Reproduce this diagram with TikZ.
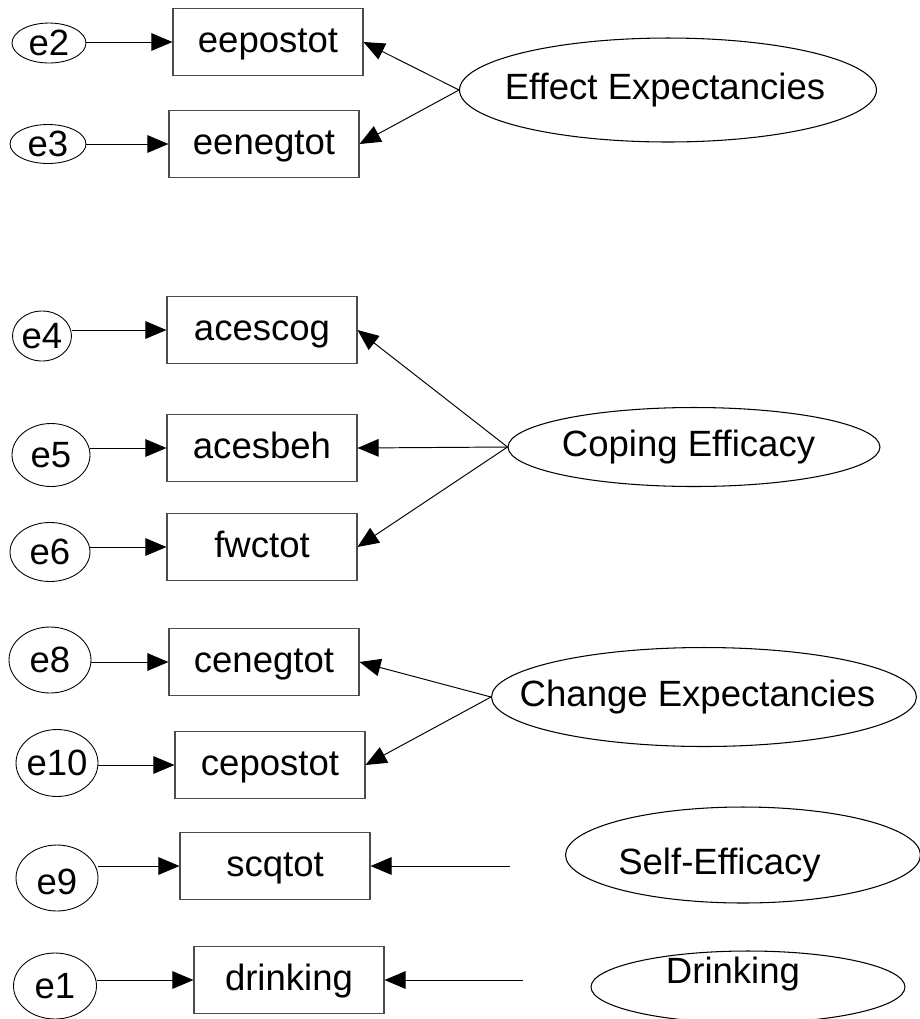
\documentclass[tikz,border=0pt]{standalone}
\usepackage{fontspec}
\setmainfont{Liberation Sans}
\usetikzlibrary{shapes.geometric,arrows.meta}

\begin{document}
\begin{tikzpicture}[x=0.02cm, y=-0.02cm,
    every node/.style={font=\fontsize{20.8}{25}\selectfont},
    obs/.style={draw=black!70, line width=0.6pt, minimum width=3.8cm, minimum height=1.34cm, inner sep=0pt, text height=16.4pt, text depth=4.6pt},
    err/.style 2 args={draw, ellipse, line width=0.5pt, minimum width=#1, minimum height=#2, inner sep=0pt},
    latent/.style 2 args={draw, ellipse, line width=0.6pt, minimum width=#1, minimum height=#2, inner sep=0pt},
    arr/.style={-{Triangle[length=12pt,width=10pt]}, line width=0.55pt}]
    \useasboundingbox (0,0) rectangle (920,1019);

    % observed variables
    \node[obs] (eepostot) at (268,42) {eepostot};
    \node[obs] (eenegtot) at (264,144) {eenegtot};
    \node[obs] (acescog) at (262,330) {acescog};
    \node[obs] (acesbeh) at (262,448) {acesbeh};
    \node[obs] (fwctot) at (262,547) {fwctot};
    \node[obs] (cenegtot) at (264,662) {cenegtot};
    \node[obs] (cepostot) at (270,765) {cepostot};
    \node[obs] (scqtot) at (275,866) {scqtot};
    \node[obs] (drinking) at (289,980) {drinking};

    % error terms
    \node[err={1.48cm}{0.8cm}, label=center:e2] (e2) at (49,43) {};
    \node[err={1.52cm}{0.78cm}, label=center:e3] (e3) at (48,144) {};
    \node[err={1.18cm}{1.0cm}, label=center:e4] (e4) at (42,336) {};
    \node[err={1.56cm}{1.26cm}, label=center:e5] (e5) at (51,455) {};
    \node[err={1.6cm}{1.18cm}, label=center:e6] (e6) at (50,552) {};
    \node[err={1.64cm}{1.32cm}, label=center:e8] (e8) at (50,660) {};
    \node[err={1.64cm}{1.34cm}, label=center:e10] (e10) at (57,763) {};
    \node[err={1.64cm}{1.32cm}, label={[yshift=-0.08cm]center:e9}] (e9) at (57,878) {};
    \node[err={1.66cm}{1.32cm}, label=center:e1] (e1) at (55,986) {};

    % latent variables
    \node[latent={8.34cm}{2.08cm}, label={[xshift=-0.06cm]center:Effect Expectancies}] (effexp) at (668,90) {};
    \node[latent={7.44cm}{1.58cm}, label={[xshift=-0.11cm]center:Coping Efficacy}] (copeff) at (694,447) {};
    \node[latent={8.5cm}{1.98cm}, label={[xshift=-0.13cm]center:Change Expectancies}] (chgexp) at (704,697) {};
    \node[latent={7.1cm}{1.92cm}, label={[xshift=-0.47cm,yshift=-0.21cm]center:Self-Efficacy}] (selfeff) at (743,855) {};
    \node[latent={6.28cm}{1.44cm}, label={[xshift=-0.3cm,yshift=0.26cm]center:Drinking}] (drinkLV) at (748,987) {};

    \coordinate (scqin) at (510,866);
    \coordinate (drinkin) at (523,980);

    % errors to indicators
    \draw[arr] (e2.east |- eepostot) -- (eepostot);
    \draw[arr] (e3.east |- eenegtot) -- (eenegtot);
    \draw[arr] (e4.east |- acescog) -- (acescog);
    \draw[arr] (e5.east |- acesbeh) -- (acesbeh);
    \draw[arr] (e6.east |- fwctot) -- (fwctot);
    \draw[arr] (e8.east |- cenegtot) -- (cenegtot);
    \draw[arr] (e10.east |- cepostot) -- (cepostot);
    \draw[arr] (e9.east |- scqtot) -- (scqtot);
    \draw[arr] (e1.east |- drinking) -- (drinking);

    % loadings
    \draw[arr] (effexp.west) -- (eepostot.east);
    \draw[arr] (effexp.west) -- (eenegtot.east);
    \draw[arr] (copeff.west) -- (acescog.east);
    \draw[arr] (copeff.west) -- (acesbeh.east);
    \draw[arr] (copeff.west) -- (fwctot.east);
    \draw[arr] (chgexp.west) -- (cenegtot.east);
    \draw[arr] (chgexp.west) -- (cepostot.east);
    \draw[arr] (scqin) -- (scqtot);
    \draw[arr] (drinkin) -- (drinking);
\end{tikzpicture}
\end{document}
